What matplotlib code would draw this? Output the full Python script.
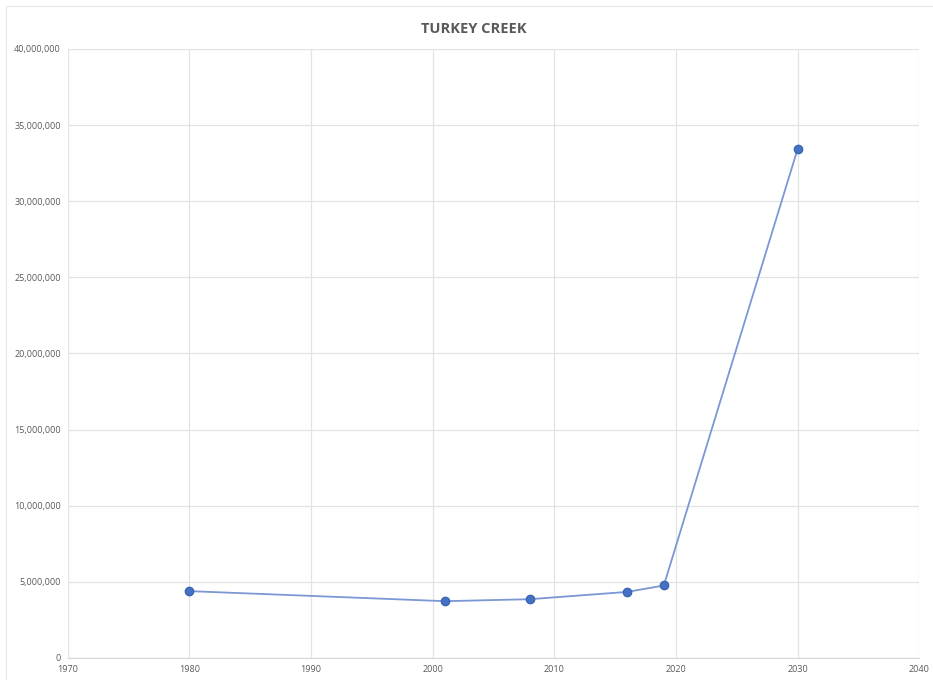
import matplotlib
matplotlib.use("Agg")
import matplotlib.pyplot as plt
from matplotlib.ticker import FuncFormatter, MultipleLocator
from matplotlib.patches import Rectangle

years = [1980, 2001, 2008, 2016, 2019, 2030]
values = [4390000, 3730000, 3860000, 4340000, 4760000, 33430000]

fig = plt.figure(figsize=(9.33, 6.8), dpi=100)
ax = fig.add_axes([0.0726, 0.0324, 0.9127, 0.8956])

ax.plot(years, values, color="#7b97d4", lw=1.3, zorder=3)
ax.plot(years, values, ls="none", marker="o", ms=6,
        color="#4472c4", markeredgecolor="#3b66b5", zorder=4)

ax.set_xlim(1970, 2040)
ax.set_ylim(0, 40000000)
ax.xaxis.set_major_locator(MultipleLocator(10))
ax.yaxis.set_major_locator(MultipleLocator(5000000))
ax.yaxis.set_major_formatter(FuncFormatter(lambda v, p: f"{int(v):,}"))

ax.grid(True, color="#e3e3e3", lw=0.9)
ax.set_axisbelow(True)
for s in ["top", "right", "left"]:
    ax.spines[s].set_visible(False)
ax.spines["bottom"].set_color("#d6d6d6")
ax.tick_params(length=0, labelsize=6.5, colors="#595959", pad=5)
for lbl in ax.get_xticklabels() + ax.get_yticklabels():
    lbl.set_family("Open Sans")

fig.text(0.508, 0.957, "TURKEY CREEK", ha="center", va="center",
         fontsize=10.5, fontweight="bold", color="#595959", family="Open Sans")

fig.patches.append(Rectangle((0.0064, -0.01), 1.2, 1.001, transform=fig.transFigure,
                             fill=False, ec="#e8e8e8", lw=0.8))

fig.savefig("out.png", dpi=100)
